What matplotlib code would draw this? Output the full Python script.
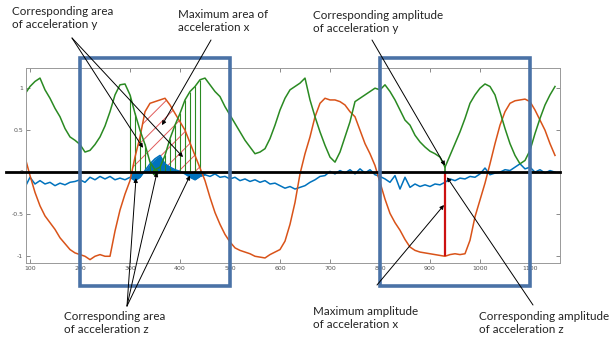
import numpy as np
import matplotlib
matplotlib.use("Agg")
import matplotlib.pyplot as plt
from matplotlib.patches import Rectangle

# samples (every 10 steps)
x = np.arange(90, 1160, 10)

acc_x = [0.18, -0.04, -0.24, -0.40, -0.52, -0.60, -0.68, -0.78, -0.85, -0.92,
         -0.96, -0.98, -1.00, -1.04, -1.00, -0.98, -1.00, -1.00, -0.70, -0.45,
         -0.26, -0.10, 0.18, 0.42, 0.72, 0.82, 0.84, 0.86, 0.88, 0.80,
         0.70, 0.60, 0.50, 0.35, 0.20, 0.05, -0.10, -0.30, -0.48, -0.62,
         -0.74, -0.83, -0.90, -0.93, -0.95, -0.97, -1.00, -1.01, -1.02, -0.98,
         -0.95, -0.92, -0.82, -0.62, -0.36, -0.02, 0.22, 0.42, 0.66, 0.82,
         0.88, 0.86, 0.86, 0.84, 0.80, 0.72, 0.66, 0.50, 0.34, 0.22,
         0.08, -0.12, -0.32, -0.49, -0.60, -0.69, -0.80, -0.89, -0.93, -0.95,
         -0.96, -0.97, -0.98, -0.99, -1.00, -0.98, -0.97, -0.98, -0.97, -0.81,
         -0.53, -0.33, -0.13, 0.10, 0.34, 0.56, 0.72, 0.82, 0.85, 0.86,
         0.87, 0.84, 0.74, 0.62, 0.50, 0.34, 0.20]

acc_y = [0.93, 1.02, 1.08, 1.12, 0.98, 0.88, 0.76, 0.66, 0.52, 0.42,
         0.38, 0.33, 0.24, 0.26, 0.33, 0.42, 0.55, 0.72, 0.92, 1.04,
         1.05, 0.92, 0.70, 0.50, 0.33, 0.12, 0.03, 0.06, 0.20, 0.40,
         0.56, 0.70, 0.86, 0.96, 1.02, 1.10, 1.12, 1.04, 0.96, 0.90,
         0.78, 0.68, 0.58, 0.48, 0.38, 0.30, 0.22, 0.24, 0.28, 0.40,
         0.56, 0.74, 0.88, 0.98, 1.02, 1.06, 1.12, 0.86, 0.66, 0.48,
         0.32, 0.18, 0.12, 0.24, 0.42, 0.60, 0.84, 0.88, 0.92, 0.96,
         1.00, 0.98, 1.04, 0.96, 0.86, 0.74, 0.62, 0.56, 0.44, 0.36,
         0.30, 0.25, 0.22, 0.18, 0.06, 0.20, 0.34, 0.48, 0.64, 0.82,
         0.92, 1.00, 1.05, 1.02, 0.92, 0.72, 0.52, 0.34, 0.20, 0.10,
         0.14, 0.26, 0.46, 0.64, 0.80, 0.92, 1.02]

acc_z = [-0.18, -0.06, -0.14, -0.10, -0.14, -0.12, -0.16, -0.13, -0.15, -0.12,
         -0.11, -0.09, -0.12, -0.06, -0.09, -0.05, -0.08, -0.05, -0.09, -0.07,
         -0.09, -0.06, -0.10, -0.06, 0.02, 0.10, 0.16, 0.20, 0.10, 0.06,
         0.03, 0.01, -0.02, -0.06, -0.09, -0.05, -0.03, -0.05, -0.02, -0.06,
         -0.05, -0.08, -0.06, -0.10, -0.08, -0.11, -0.09, -0.12, -0.10, -0.14,
         -0.13, -0.16, -0.19, -0.17, -0.20, -0.18, -0.16, -0.12, -0.09, -0.05,
         -0.04, 0.01, -0.02, 0.02, -0.01, 0.03, -0.02, 0.04, -0.01, 0.03,
         -0.03, -0.05, -0.08, -0.12, -0.04, -0.20, -0.06, -0.18, -0.14, -0.17,
         -0.15, -0.17, -0.14, -0.15, -0.12, -0.08, -0.10, -0.07, -0.08, -0.05,
         -0.06, -0.02, 0.05, -0.03, -0.01, 0.00, 0.03, 0.02, 0.06, 0.10,
         0.04, 0.06, 0.00, 0.03, -0.01, 0.02, 0.00]

x_ticks = [100, 200, 300, 400, 500, 600, 700, 800, 900, 1000, 1100]
y_ticks = [-1, -0.5, 0, 0.5, 1]
y_tick_labels = ["-1", "-0.5", "0", "0.5", "1"]

area_window = (300, 450)    # hatched max area of acc x
peak_x = 930                # max amplitude of acc x
boxes = [(200, 500), (800, 1100)]

C_X, C_Y, C_Z = "#d95319", "#2a8a22", "#0072bd"
BOX = "#4a72a6"

acc_x = np.array(acc_x)
acc_y = np.array(acc_y)
acc_z = np.array(acc_z)

W, H = 615, 341
fig = plt.figure(figsize=(W / 100, H / 100), dpi=100)
ax = fig.add_axes([26 / W, 1 - 263 / H, 534 / W, 195 / H])

def fp(px, py):
    # picture pixels (top-left origin) -> figure fraction
    return (px / W, 1 - py / H)

in_win = (x >= area_window[0]) & (x <= area_window[1])

# hatched area under acc x
plt.rcParams["hatch.linewidth"] = 0.7
ax.fill_between(x, 0, acc_x, where=in_win & (acc_x > -0.2), interpolate=True,
                facecolor="none", edgecolor="#e05a5a", hatch="//", linewidth=0)

# green stems for the acc y area
stem_sel = (x >= 300) & (x <= 440)
ax.vlines(x[stem_sel], 0, acc_y[stem_sel], color=C_Y, lw=0.8)

# blue filled acc z area
ax.fill_between(x, 0, acc_z, where=in_win, interpolate=True, color=C_Z, lw=0)

ax.plot(x, acc_z, color=C_Z, lw=1.1)
ax.plot(x, acc_x, color=C_X, lw=1.1)
ax.plot(x, acc_y, color=C_Y, lw=1.1)

# amplitude markers
i = list(x).index(peak_x)
ax.vlines(peak_x, 0, acc_x[i], color="#cc1111", lw=1.6)
ax.vlines(peak_x, 0, acc_y[i], color=C_Y, lw=1.2)
ax.plot([350], [0], marker="s", ms=2.5, color=C_Y, zorder=5)

ax.set_xlim(92, 1160)
ax.set_ylim(-1.08, 1.24)
ax.set_xticks(x_ticks)
ax.set_yticks(y_ticks)
ax.set_yticklabels(y_tick_labels)
ax.tick_params(direction="in", length=3, width=0.6, labelsize=4.5,
               labelcolor="#555555", color="#777777",
               top=True, right=True, pad=2)
for s in ax.spines.values():
    s.set_color("#999999")
    s.set_linewidth(0.7)

# thick zero line, running past the left edge
ax.plot([52, 1160], [0, 0], color="black", lw=2, clip_on=False, zorder=6)

for x0, x1 in boxes:
    ax.add_patch(Rectangle((x0, -1.357), x1 - x0, 2.714, fill=False,
                           edgecolor=BOX, lw=2.6, clip_on=False, zorder=7))

txt = dict(fontsize=8.4, family=["Lato", "DejaVu Sans"], color="#222222",
           va="top", ha="left", linespacing=1.2)
ap = dict(arrowstyle="-|>", color="black", lw=0.7, mutation_scale=6,
          shrinkA=0, shrinkB=0)

notes = [
    ("Corresponding area\nof acceleration y", (12, 6), (72, 38),
     [(326, 0.29), (406, 0.18)]),
    ("Maximum area of\nacceleration x", (178, 9), (211, 40), [(364, 0.56)]),
    ("Corresponding amplitude\nof acceleration y", (313, 10), (372, 40),
     [(930, 0.08)]),
    ("Corresponding area\nof acceleration z", (64, 311), (127, 306),
     [(312, -0.07), (354, 0.0), (420, -0.04)]),
    ("Maximum amplitude\nof acceleration x", (313, 306), (377, 285),
     [(928, -0.39)]),
    ("Corresponding amplitude\nof acceleration z", (479, 311), (533, 305),
     [(934, -0.06)]),
]
for label, tpos, start, targets in notes:
    fig.text(*fp(*tpos), label, **txt)
    for tx, ty in targets:
        ax.annotate("", xy=(tx, ty), xycoords="data",
                    xytext=fp(*start), textcoords="figure fraction",
                    arrowprops=ap, annotation_clip=False, zorder=8)

fig.savefig("out.png", dpi=100)
